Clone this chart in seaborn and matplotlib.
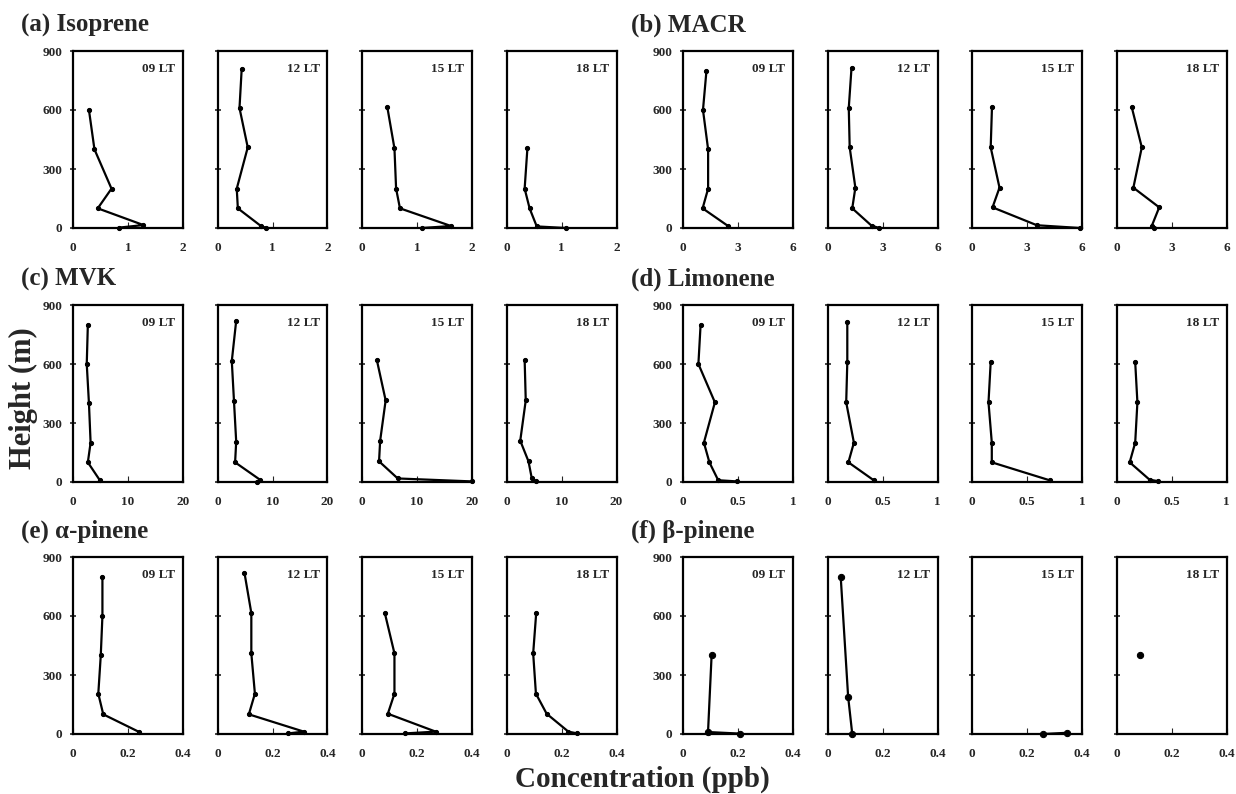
import matplotlib
matplotlib.use("Agg")
import matplotlib.pyplot as plt
import seaborn as sns

# vertical profiles: concentration (ppb) and height (m)
times = ["09 LT", "12 LT", "15 LT", "18 LT"]

isoprene_conc = [[0.29, 0.39, 0.70, 0.45, 1.28, 0.84],
                 [0.44, 0.40, 0.55, 0.35, 0.37, 0.79, 0.89],
                 [0.46, 0.59, 0.62, 0.69, 1.62, 1.09],
                 [0.38, 0.33, 0.42, 0.55, 1.08]]
isoprene_height = [[600, 400, 200, 100, 15, 2],
                   [810, 610, 410, 200, 100, 10, 0],
                   [615, 405, 200, 100, 10, 0],
                   [405, 200, 100, 8, 0]]

macr_conc = [[1.28, 1.09, 1.37, 1.37, 1.07, 2.43],
             [1.31, 1.16, 1.21, 1.52, 1.35, 2.40, 2.83],
             [1.09, 1.02, 1.50, 1.12, 3.54, 5.90],
             [0.83, 1.38, 0.92, 2.33, 1.93, 2.05]]
macr_height = [[800, 600, 400, 200, 100, 12],
               [815, 610, 410, 205, 100, 12, 0],
               [615, 410, 205, 105, 14, 0],
               [615, 410, 205, 105, 12, 0]]

mvk_conc = [[2.7, 2.5, 2.9, 3.2, 2.7, 4.9],
            [3.4, 2.6, 3.0, 3.4, 3.2, 7.7, 7.2],
            [2.7, 4.3, 3.3, 3.1, 6.5, 20.0],
            [3.3, 3.5, 2.5, 4.0, 4.6, 5.3]]
mvk_height = [[800, 600, 400, 200, 100, 8],
              [820, 615, 410, 205, 100, 12, 0],
              [620, 415, 210, 105, 18, 3],
              [620, 415, 210, 105, 18, 3]]

limonene_conc = [[0.16, 0.14, 0.29, 0.19, 0.24, 0.32, 0.49],
                 [0.18, 0.18, 0.17, 0.24, 0.19, 0.42],
                 [0.17, 0.15, 0.18, 0.18, 0.71],
                 [0.17, 0.19, 0.17, 0.12, 0.30, 0.38]]
limonene_height = [[800, 600, 405, 200, 100, 9, 3],
                   [815, 608, 405, 200, 100, 9],
                   [610, 405, 200, 100, 8],
                   [610, 405, 200, 100, 12, 4]]

apinene_conc = [[0.107, 0.107, 0.101, 0.092, 0.110, 0.241],
                [0.098, 0.123, 0.123, 0.136, 0.114, 0.314, 0.257],
                [0.083, 0.118, 0.118, 0.094, 0.268, 0.157],
                [0.108, 0.097, 0.107, 0.146, 0.225, 0.257]]
apinene_height = [[800, 600, 400, 205, 100, 10],
                  [820, 615, 410, 205, 100, 12, 3],
                  [615, 410, 205, 103, 12, 3],
                  [615, 410, 205, 103, 12, 3]]

bpinene_conc = [[0.104, 0.091, 0.207],
                [0.048, 0.075, 0.090],
                [0.259, 0.344],
                [0.087]]
bpinene_height = [[400, 10, 2],
                  [800, 190, 0],
                  [0, 6],
                  [400]]

titles = ["(a) Isoprene", "(b) MACR", "(c) MVK", "(d) Limonene",
          "(e) \u03b1-pinene", "(f) \u03b2-pinene"]
x_max = [2, 6, 20, 1, 0.4, 0.4]
x_ticklabels = [["0", "1", "2"], ["0", "3", "6"], ["0", "10", "20"],
                ["0", "0.5", "1"], ["0", "0.2", "0.4"], ["0", "0.2", "0.4"]]
y_ticks = [0, 300, 600, 900]

species = [(isoprene_conc, isoprene_height), (macr_conc, macr_height),
           (mvk_conc, mvk_height), (limonene_conc, limonene_height),
           (apinene_conc, apinene_height), (bpinene_conc, bpinene_height)]

sns.set_style("ticks")
plt.rcParams["font.family"] = ["Liberation Serif", "DejaVu Serif"]
plt.rcParams["font.weight"] = "bold"

W, H = 1236, 794
fig = plt.figure(figsize=(W / 100, H / 100), dpi=100)

group_left = [73, 683]
row_top = [51, 305, 557]
panel_w, panel_h, step = 110, 177, 144.5

for k, (conc, height) in enumerate(species):
    row, col = k // 2, k % 2
    top = row_top[row]
    fig.text((group_left[col] - 52) / W, 1 - (top - 26) / H, titles[k],
             fontsize=18, fontweight="bold", ha="left", va="center")
    for i in range(4):
        left = group_left[col] + i * step
        ax = fig.add_axes([left / W, 1 - (top + panel_h) / H, panel_w / W, panel_h / H])
        big = k == 5
        sns.lineplot(x=conc[i], y=height[i], sort=False, estimator=None, ax=ax,
                     color="black", linewidth=1.6, marker="o",
                     markersize=4.5 if big else 3, markeredgecolor="black",
                     clip_on=False)
        ax.set_xlim(0, x_max[k])
        ax.set_ylim(0, 900)
        ax.set_xticks([0, x_max[k] / 2, x_max[k]])
        ax.set_xticklabels(x_ticklabels[k], fontsize=9.5, fontweight="bold")
        ax.set_yticks(y_ticks)
        if i == 0:
            ax.set_yticklabels([str(v) for v in y_ticks], fontsize=9.5, fontweight="bold")
        else:
            ax.set_yticklabels([])
        ax.tick_params(axis="x", direction="in", length=4, width=0.8, pad=10)
        ax.tick_params(axis="y", direction="inout", length=5, width=1.2, pad=5)
        for s in ax.spines.values():
            s.set_linewidth(1.6)
            s.set_color("black")
        ax.set_xlabel("")
        ax.set_ylabel("")
        ax.text(0.93, 0.93, times[i], transform=ax.transAxes, ha="right", va="top",
                fontsize=9.5, fontweight="bold")

fig.text(23 / W, 1 - 398 / H, "Height (m)", rotation=90, fontsize=22,
         fontweight="bold", ha="center", va="center")
fig.text(642 / W, 1 - 779 / H, "Concentration (ppb)", fontsize=21,
         fontweight="bold", ha="center", va="center")

fig.savefig("out.png", dpi=100, facecolor="white")
